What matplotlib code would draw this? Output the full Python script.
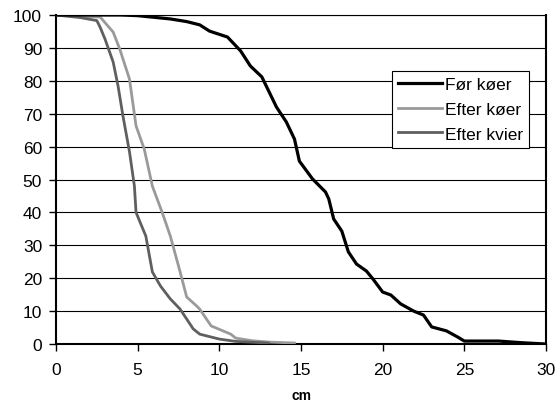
import matplotlib
matplotlib.use("Agg")
import matplotlib.pyplot as plt

plt.rcParams['font.family'] = ['Liberation Sans', 'DejaVu Sans']

# data (cm, percent)
for_koer_x = [0, 2, 4, 5, 6, 7, 8, 8.8, 9.4, 10.5, 11.3, 11.9, 12.6, 13.5, 14.1, 14.6, 14.9,
              15.7, 16.5, 16.7, 17.0, 17.5, 17.9, 18.4, 19.0, 19.4, 20.0, 20.5, 21.1, 21.9,
              22.5, 23.0, 23.9, 24.6, 25.0, 27.1, 28.5, 30]
for_koer_y = [100, 100, 100, 99.8, 99.3, 98.8, 98.0, 97.0, 95.1, 93.3, 89.1, 84.5, 81.2, 72.0,
              67.5, 62.3, 55.6, 50.2, 46.2, 44.1, 38.0, 34.3, 28.0, 24.3, 22.2, 19.8, 15.8,
              14.9, 12.2, 10.0, 8.8, 5.2, 4.0, 2.1, 0.9, 0.9, 0.4, 0]

efter_koer_x = [0, 1.5, 2.5, 2.7, 3.5, 3.9, 4.5, 4.9, 5.4, 5.9, 6.5, 7.0, 7.6, 8.0, 8.6, 8.8,
                9.5, 10.7, 11.0, 12.0, 13.0, 14.6]
efter_koer_y = [100, 99.6, 99.4, 99.4, 94.8, 89.7, 80.5, 66.3, 59.3, 48.0, 40.0, 32.8, 21.9,
                14.3, 11.6, 10.6, 5.5, 3.0, 1.8, 1.0, 0.6, 0.3]

efter_kvier_x = [0, 1.5, 2.5, 2.7, 3.0, 3.5, 3.8, 4.1, 4.5, 4.8, 4.9, 5.5, 5.9, 6.4, 7.0, 7.6,
                 8.0, 8.4, 8.8, 10.0, 11.0, 13.0]
efter_kvier_y = [100, 99.2, 98.3, 96.3, 92.7, 85.7, 78.4, 69.3, 58.4, 48.0, 40.0, 32.8, 21.9,
                 17.6, 13.7, 10.6, 7.6, 4.6, 3.0, 1.5, 0.8, 0.3]

labels = ["Før køer", "Efter køer", "Efter kvier"]
x_ticks = [0, 5, 10, 15, 20, 25, 30]
y_ticks = [0, 10, 20, 30, 40, 50, 60, 70, 80, 90, 100]

fig = plt.figure(figsize=(5.55, 4.06), dpi=100)
ax = fig.add_axes([0.1009, 0.1502, 0.8829, 0.8104])

ax.plot(for_koer_x, for_koer_y, color="black", lw=2.3, label=labels[0], zorder=4)
ax.plot(efter_koer_x, efter_koer_y, color="#9a9a9a", lw=2.0, label=labels[1], zorder=3)
ax.plot(efter_kvier_x, efter_kvier_y, color="#5f5f5f", lw=2.0, label=labels[2], zorder=3)

ax.set_xlim(0, 30)
ax.set_ylim(0, 100)
ax.set_xticks(x_ticks)
ax.set_yticks(y_ticks)
ax.yaxis.grid(True, color="black", lw=0.8)
ax.set_axisbelow(True)
ax.tick_params(direction="out", length=5, width=1, labelsize=12.5, colors="black")
ax.tick_params(axis="x", pad=8)
ax.tick_params(axis="y", pad=5)
for s in ax.spines.values():
    s.set_linewidth(1.5)
ax.spines['top'].set_linewidth(0.8)

ax.set_xlabel("cm", fontsize=10, fontweight="bold", labelpad=8)

leg = ax.legend(loc="upper left", bbox_to_anchor=(0.686, 0.830), fontsize=12.5,
                frameon=True, fancybox=False, handlelength=2.5, borderpad=0.35,
                labelspacing=0.55, handletextpad=0.2, borderaxespad=0)
leg.get_frame().set_edgecolor("black")
leg.get_frame().set_linewidth(0.8)
leg.get_frame().set_alpha(1)

fig.savefig("out.png", dpi=100)
